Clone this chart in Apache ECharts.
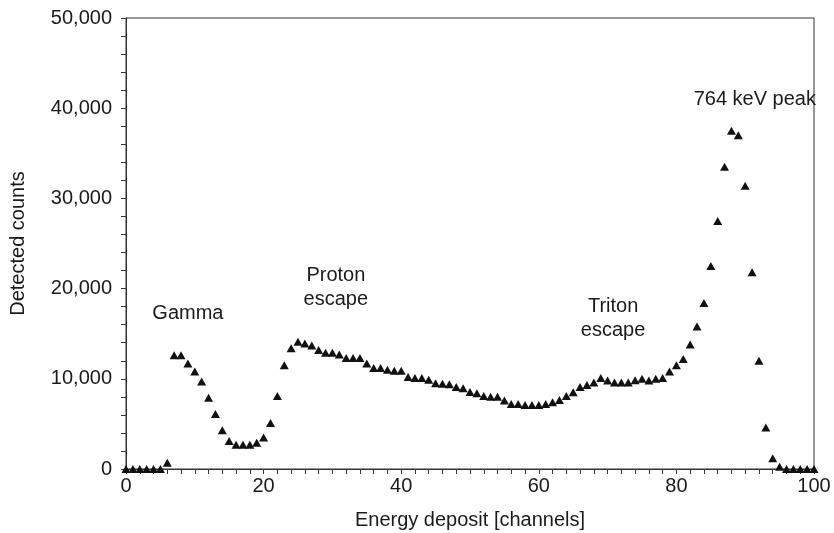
<!DOCTYPE html>
<html>
<head>
<meta charset="utf-8">
<script src="https://cdn.jsdelivr.net/npm/echarts@6/dist/echarts.min.js"></script>
<style>
html,body{margin:0;padding:0;background:#fff;}
#chart{width:834px;height:533px;}
</style>
</head>
<body>
<div id="chart"></div>
<script>
// Channel numbers
const channels = [];
for (let i = 0; i <= 100; i++) channels.push(i);

// Detected counts per channel
const counts = [
  0, 0, 0, 0, 0, 0, 700, 12600, 12600, 11700,
  10800, 9700, 7900, 6100, 4300, 3100, 2700, 2700, 2700, 2900,
  3500, 5100, 8100, 11500, 13400, 14100, 13900, 13700, 13200, 12900,
  12900, 12700, 12300, 12300, 12300, 11700, 11200, 11200, 11000, 10900,
  10900, 10200, 10100, 10100, 9900, 9500, 9450, 9400, 9100, 8950,
  8550, 8400, 8100, 8000, 8000, 7600, 7200, 7200, 7100, 7100,
  7100, 7200, 7400, 7650, 8100, 8500, 9100, 9300, 9600, 10100,
  9800, 9600, 9600, 9600, 9850, 10000, 9800, 10000, 10100, 10800,
  11500, 12200, 13800, 15800, 18400, 22500, 27500, 33500, 37500, 37000,
  31400, 21800, 12000, 4600, 1200, 250, 0, 0, 0, 0,
  0
];

// Annotation texts and their anchor positions in data coordinates
const annotationTexts = ['Gamma', 'Proton\nescape', 'Triton\nescape', '764 keV peak'];
const annotationX = [9.0, 30.5, 70.8, 91.4];
const annotationY = [17200, 20100, 16700, 41000];

const xTicks = { min: 0, max: 100, interval: 20 };
const yTicks = { min: 0, max: 50000, interval: 10000 };

const FONT = "'Liberation Sans', Arial, Helvetica, sans-serif";
const INK = '#1a1a1a';

const chart = echarts.init(document.getElementById('chart'), null, { renderer: 'canvas' });

const points = channels.map((c, i) => [c, counts[i]]);
const notes = annotationTexts.map((t, i) => ({ name: t, value: [annotationX[i], annotationY[i]] }));

chart.setOption({
  animation: false,
  backgroundColor: '#fff',
  grid: {
    left: 126, right: 20, top: 18, bottom: 64,
    containLabel: false, outerBoundsMode: 'none',
    show: true, borderColor: '#333', borderWidth: 1, backgroundColor: 'transparent'
  },
  xAxis: {
    type: 'value',
    min: xTicks.min, max: xTicks.max, interval: xTicks.interval,
    name: 'Energy deposit [channels]',
    nameLocation: 'middle', nameGap: 41,
    nameTextStyle: { fontFamily: FONT, fontSize: 20, color: INK },
    axisLine: { show: true, lineStyle: { color: '#333', width: 1 } },
    axisTick: { show: true, inside: false, length: 5, lineStyle: { color: '#333' } },
    minorTick: { show: true, splitNumber: 10, length: 5, lineStyle: { color: '#333' } },
    axisLabel: { fontFamily: FONT, fontSize: 20, color: INK, margin: 7 },
    splitLine: { show: false },
    minorSplitLine: { show: false }
  },
  yAxis: {
    type: 'value',
    min: yTicks.min, max: yTicks.max, interval: yTicks.interval,
    name: 'Detected counts',
    nameLocation: 'middle', nameGap: 98, nameRotate: 90,
    nameTextStyle: { fontFamily: FONT, fontSize: 20, color: INK },
    axisLine: { show: true, lineStyle: { color: '#333', width: 1 } },
    axisTick: { show: true, inside: false, length: 5, lineStyle: { color: '#333' } },
    minorTick: { show: true, splitNumber: 5, length: 5, lineStyle: { color: '#333' } },
    axisLabel: {
      fontFamily: FONT, fontSize: 20, color: INK, margin: 14,
      formatter: v => v.toLocaleString('en-US')
    },
    splitLine: { show: false },
    minorSplitLine: { show: false }
  },
  series: [
    {
      type: 'scatter',
      data: points,
      symbol: 'triangle',
      symbolSize: [9, 8],
      clip: false,
      itemStyle: { color: '#111', opacity: 1 },
      z: 5
    },
    {
      type: 'scatter',
      data: notes,
      symbolSize: 0,
      clip: false,
      silent: true,
      itemStyle: { color: '#111', opacity: 1 },
      label: {
        show: true,
        position: 'inside',
        formatter: p => p.name,
        fontFamily: FONT, fontSize: 20, color: INK, opacity: 1, lineHeight: 24, align: 'center',
        textBorderWidth: 0
      },
      z: 6
    }
  ]
});
</script>
</body>
</html>
